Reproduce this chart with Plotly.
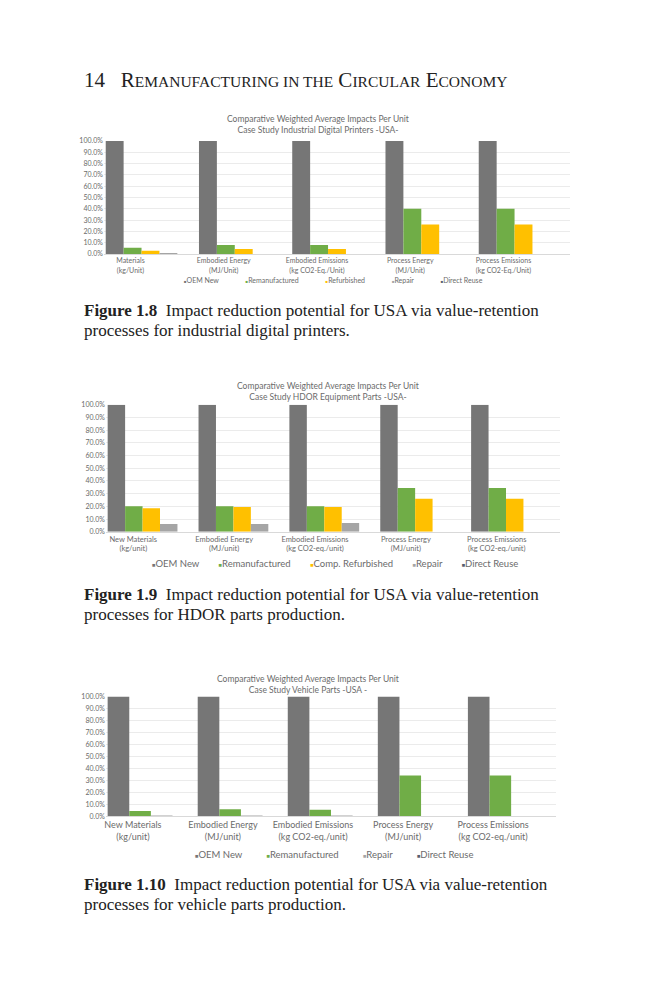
import plotly.graph_objects as go

# ---- data -------------------------------------------------------------
series_names = ["OEM New", "Remanufactured", "Refurbished", "Repair", "Direct Reuse"]
series_names_hdor = ["OEM New", "Remanufactured", "Comp. Refurbished", "Repair", "Direct Reuse"]
series_names_vehicle = ["OEM New", "Remanufactured", "Repair", "Direct Reuse"]

cats_printers = [
    "Materials<br>(kg/Unit)",
    "Embodied Energy<br>(MJ/Unit)",
    "Embodied Emissions<br>(kg CO2-Eq./Unit)",
    "Process Energy<br>(MJ/Unit)",
    "Process Emissions<br>(kg CO2-Eq./Unit)",
]
cats_parts = [
    "New Materials<br>(kg/unit)",
    "Embodied Energy<br>(MJ/unit)",
    "Embodied Emissions<br>(kg CO2-eq./unit)",
    "Process Energy<br>(MJ/unit)",
    "Process Emissions<br>(kg CO2-eq./unit)",
]

# % of OEM New impact
printers_oem = [100, 100, 100, 100, 100]
printers_reman = [5.5, 8, 8, 40, 40]
printers_refurb = [3, 4.5, 4.5, 26, 26]
printers_repair = [0.5, 0, 0, 0, 0]
printers_reuse = [0, 0, 0, 0, 0]

hdor_oem = [100, 100, 100, 100, 100]
hdor_reman = [20, 20, 20, 34.5, 34.5]
hdor_refurb = [18.5, 19.5, 19.5, 26, 26]
hdor_repair = [6.2, 6.2, 6.8, 0, 0]
hdor_reuse = [0, 0, 0, 0, 0]

vehicle_oem = [100, 100, 100, 100, 100]
vehicle_reman = [4.5, 6, 5.5, 34, 34]
vehicle_repair = [0.3, 0.3, 0.3, 0, 0]
vehicle_reuse = [0, 0, 0, 0, 0]

y_ticks = [0, 10, 20, 30, 40, 50, 60, 70, 80, 90, 100]

colors = {
    "OEM New": "#767676",
    "Remanufactured": "#70AD47",
    "Refurbished": "#FFC000",
    "Comp. Refurbished": "#FFC000",
    "Repair": "#A5A5A5",
    "Direct Reuse": "#56606E",
}

# ---- page geometry (page pixels -> paper coords) ------------------------
W, H, OFF = 650, 984, 8


def xp(px):
    return (px - OFF) / W


def yp(py):
    return 1 - (py - OFF) / H


SANS = "Lato"
SERIF = "Liberation Serif"
GREY = "#6b6b6b"

fig = go.Figure()

charts = [
    dict(names=series_names, cats=cats_printers,
         vals=[printers_oem, printers_reman, printers_refurb, printers_repair, printers_reuse],
         x=(103, 570), y=(137, 251), xfont=7, shift=-20),
    dict(names=series_names_hdor, cats=cats_parts,
         vals=[hdor_oem, hdor_reman, hdor_refurb, hdor_repair, hdor_reuse],
         x=(105, 560), y=(403, 531), xfont=7.5, shift=-18),
    dict(names=series_names_vehicle, cats=cats_parts,
         vals=[vehicle_oem, vehicle_reman, vehicle_repair, vehicle_reuse],
         x=(105, 556), y=(697, 818), xfont=9, shift=-18),
]

for i, ch in enumerate(charts, start=1):
    suffix = "" if i == 1 else str(i)
    for name, vals in zip(ch["names"], ch["vals"]):
        fig.add_trace(go.Bar(
            x=ch["cats"], y=vals, name=name,
            marker=dict(color=colors[name], line=dict(width=0)),
            xaxis="x" + suffix, yaxis="y" + suffix,
            showlegend=False,
        ))
    fig.layout["xaxis" + suffix] = dict(
        domain=[xp(ch["x"][0]), xp(ch["x"][1])],
        anchor="y" + suffix,
        showline=True, linecolor="#d9d9d9", linewidth=1,
        ticks="", tickfont=dict(family=SANS, size=ch["xfont"], color=GREY),
        ticklabelshift=ch["shift"], ticklabelstandoff=0,
        showgrid=False, fixedrange=True,
    )
    fig.layout["yaxis" + suffix] = dict(
        domain=[yp(ch["y"][1]), yp(ch["y"][0])],
        anchor="x" + suffix,
        range=[0, 100], tickmode="array", tickvals=y_ticks,
        ticktext=[f"{v:.1f}%" for v in y_ticks],
        tickfont=dict(family=SANS, size=7, color=GREY),
        showgrid=True, gridcolor="#ebebeb", gridwidth=1,
        zeroline=False, showline=False, ticks="",
        fixedrange=True,
    )

annotations = []

# running header
annotations.append(dict(
    x=xp(81), y=yp(76), xref="paper", yref="paper", xanchor="left", yanchor="middle",
    showarrow=False,
    text=("14&nbsp;&nbsp;&nbsp;R<span style='font-size:15.5px'>EMANUFACTURING IN THE</span> "
          "C<span style='font-size:15.5px'>IRCULAR</span> E<span style='font-size:15.5px'>CONOMY</span>"),
    font=dict(family=SERIF, size=21, color="#222222"),
))

titles = [
    ("Comparative Weighted Average Impacts Per Unit<br>Case Study Industrial Digital Printers -USA-", 317, 120.5),
    ("Comparative Weighted Average Impacts Per Unit<br>Case Study HDOR Equipment Parts -USA-", 327, 389.5),
    ("Comparative Weighted Average Impacts Per Unit<br>Case Study Vehicle Parts -USA -", 307, 685),
]
for text, cx, cy in titles:
    annotations.append(dict(
        x=xp(cx), y=yp(cy), xref="paper", yref="paper", xanchor="center", yanchor="middle",
        showarrow=False, text=text, font=dict(family=SANS, size=8.5, color=GREY),
    ))

# legends (small coloured squares + names)
legend_rows = [
    (series_names, 333, 277, 7, 15),
    (series_names_hdor, 335, 563, 9.5, 8),
    (series_names_vehicle, 333, 856, 9.5, 10),
]
for names, cx, cy, size, gap in legend_rows:
    parts = [f"<span style='color:{colors[n]};font-size:{size * 0.6:.1f}px'>■</span>{n}" for n in names]
    annotations.append(dict(
        x=xp(cx), y=yp(cy), xref="paper", yref="paper", xanchor="center", yanchor="middle",
        showarrow=False, text=("&nbsp;" * gap).join(parts),
        font=dict(family=SANS, size=size, color=GREY),
    ))

captions = [
    ("<b>Figure 1.8</b>&nbsp;&nbsp;Impact reduction potential for USA via value-retention",
     "processes for industrial digital printers.", 308),
    ("<b>Figure 1.9</b>&nbsp;&nbsp;Impact reduction potential for USA via value-retention",
     "processes for HDOR parts production.", 594),
    ("<b>Figure 1.10</b>&nbsp;&nbsp;Impact reduction potential for USA via value-retention",
     "processes for vehicle parts production.", 887),
]
for line1, line2, cy in captions:
    for text, ly in ((line1, cy), (line2, cy + 20)):
        annotations.append(dict(
            x=xp(81), y=yp(ly), xref="paper", yref="paper", xanchor="left", yanchor="middle",
            align="left", showarrow=False, text=text,
            font=dict(family=SERIF, size=17, color="#222222"),
        ))

fig.update_layout(
    width=W, height=H,
    margin=dict(l=0, r=0, t=0, b=0),
    paper_bgcolor="white", plot_bgcolor="white",
    barmode="group", bargap=0.04, bargroupgap=0,
    annotations=annotations,
    showlegend=False,
)

fig.write_html("out.html", config={"displayModeBar": False})
